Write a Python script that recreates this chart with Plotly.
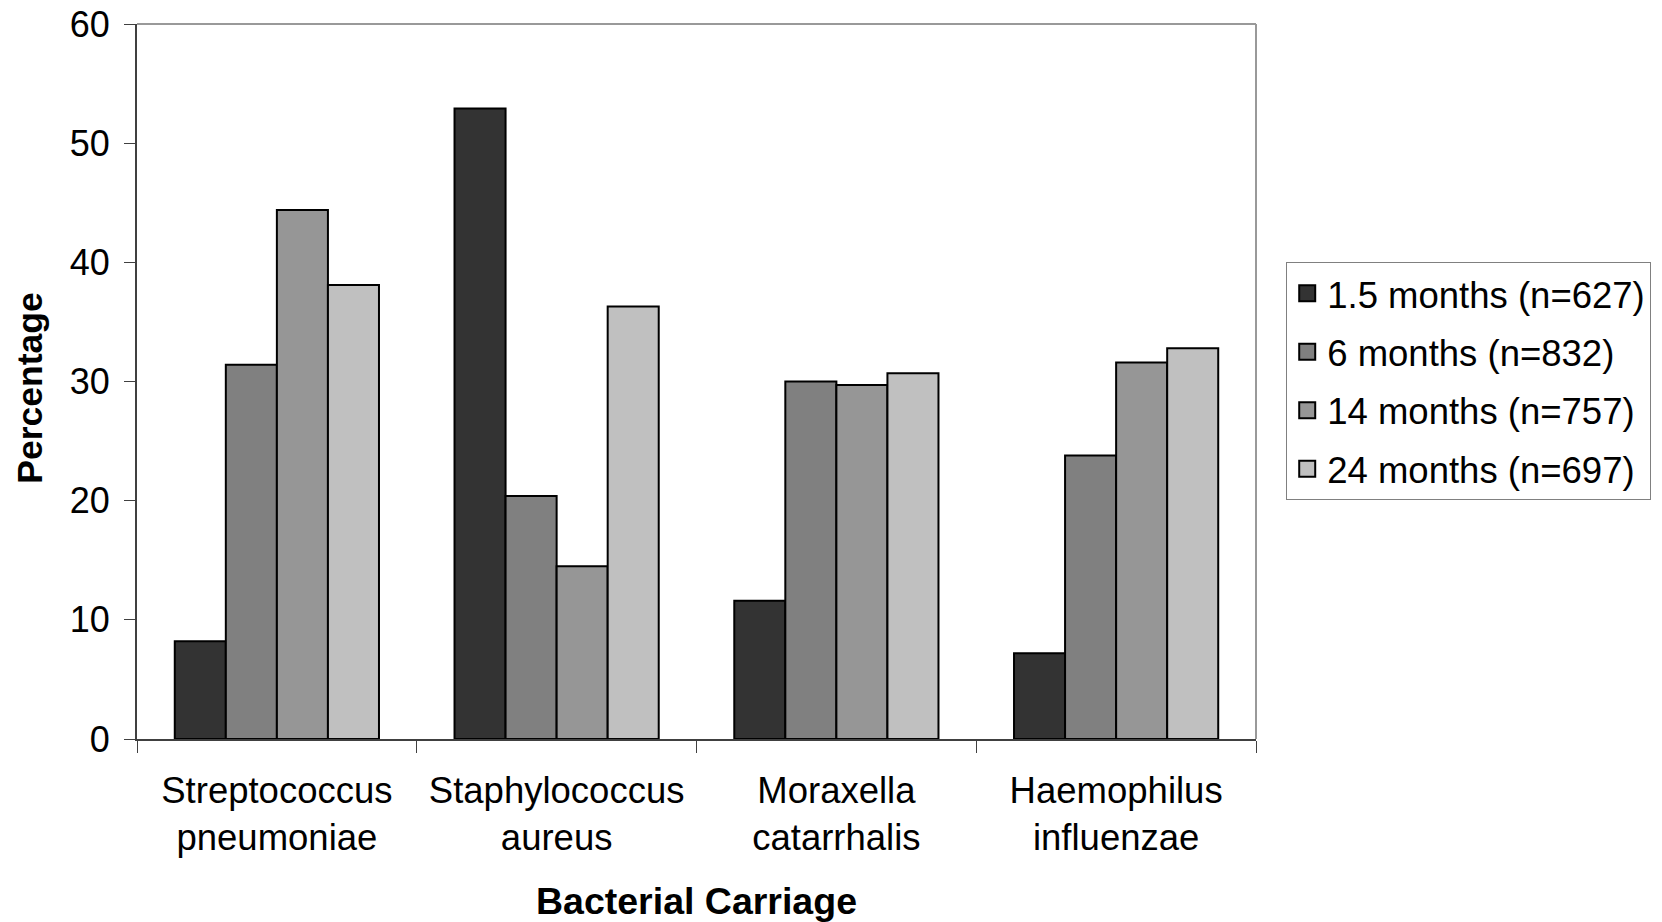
import plotly.graph_objects as go

categories = ["Streptococcus<br>pneumoniae", "Staphylococcus<br>aureus", "Moraxella<br>catarrhalis", "Haemophilus<br>influenzae"]
series_names = ["1.5 months (n=627)", "6 months (n=832)", "14 months (n=757)", "24 months (n=697)"]
v_1_5 = [8.2, 52.9, 11.6, 7.2]
v_6 = [31.4, 20.4, 30.0, 23.8]
v_14 = [44.4, 14.5, 29.7, 31.6]
v_24 = [38.1, 36.3, 30.7, 32.8]
colors = ["#333333", "#808080", "#969696", "#c0c0c0"]
y_ticks = [0, 10, 20, 30, 40, 50, 60]

fig = go.Figure()
for name, vals, col in zip(series_names, [v_1_5, v_6, v_14, v_24], colors):
    fig.add_trace(go.Bar(x=categories, y=vals, name=name, showlegend=False,
                         marker=dict(color=col, line=dict(color="black", width=2))))
for i, (name, col) in enumerate(zip(series_names, colors)):
    fig.add_trace(go.Scatter(x=[None], y=[None], mode="markers", name=name,
                             legendgroup=f"g{i}",
                             marker=dict(symbol="square", size=16, color=col,
                                         line=dict(color="black", width=2))))

font = "Liberation Sans, Arial, sans-serif"
fig.update_layout(
    width=1662, height=922,
    margin=dict(l=137, r=406, t=24, b=183, autoexpand=False),
    paper_bgcolor="white", plot_bgcolor="white",
    barmode="group", bargap=0.27, bargroupgap=0,
    font=dict(family=font, size=36, color="black"),
    showlegend=True,
    legend=dict(x=1.027, y=0.667, xanchor="left", yanchor="top",
                bordercolor="#808080", borderwidth=1, bgcolor="white",
                font=dict(size=36.5), itemsizing="trace", tracegroupgap=8,
                traceorder="grouped"),
    xaxis=dict(showline=True, linecolor="#404040", linewidth=2,
               ticks="outside", tickson="boundaries", ticklen=12, tickcolor="#404040",
               tickwidth=1, showgrid=False, tickfont=dict(size=36.5),
               ticklabelstandoff=18,
               title=dict(text="<b>Bacterial Carriage</b>", font=dict(size=37.5), standoff=34),
               fixedrange=True),
    yaxis=dict(range=[0, 60], tickvals=y_ticks, showline=True, linecolor="#404040", linewidth=2,
               ticks="outside", ticklen=11, tickcolor="#404040", tickwidth=1,
               ticklabelstandoff=7,
               showgrid=False, zeroline=False, tickfont=dict(size=36)),
    annotations=[
        dict(text="<b>Percentage</b>", xref="paper", yref="paper", x=-0.0956, y=0.49,
             xanchor="center", yanchor="middle", textangle=-90, showarrow=False,
             font=dict(size=35.5)),
    ],
    shapes=[
        dict(type="line", xref="paper", yref="paper", x0=0, x1=1, y0=1, y1=1,
             line=dict(color="#999999", width=2)),
        dict(type="line", xref="paper", yref="paper", x0=1, x1=1, y0=0, y1=1,
             line=dict(color="#999999", width=2)),
    ],
)

fig.write_html("out.html")
